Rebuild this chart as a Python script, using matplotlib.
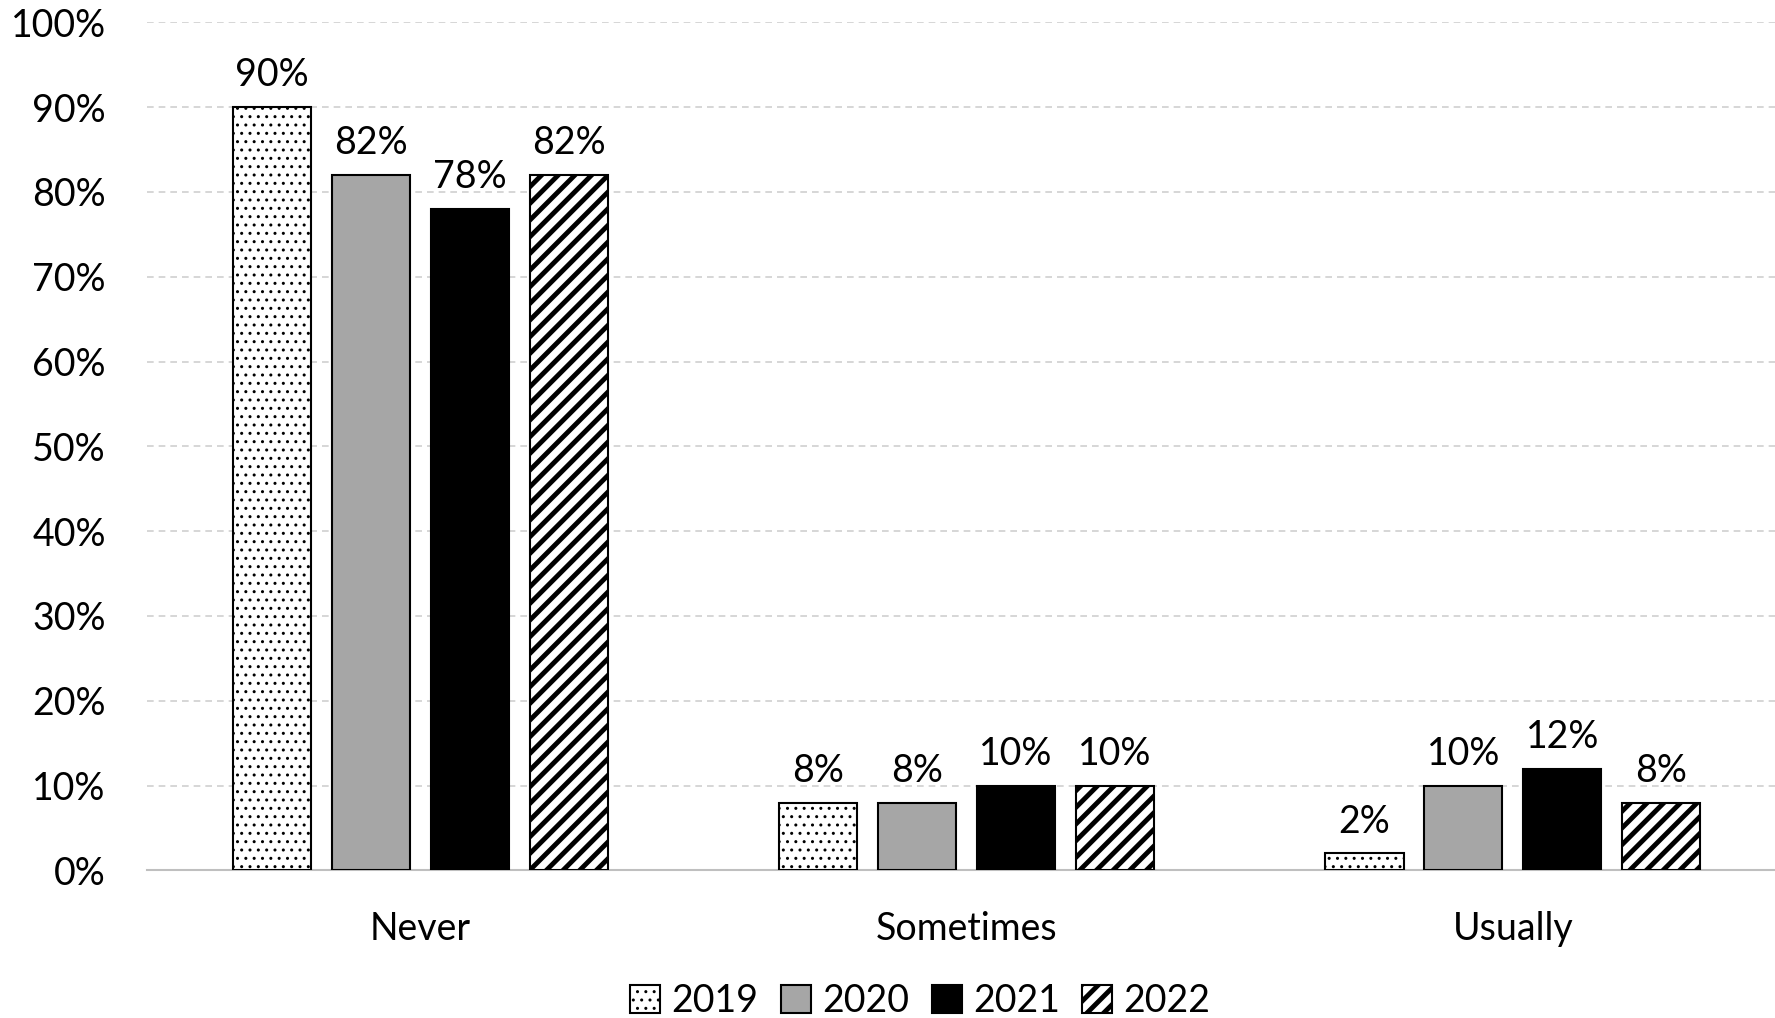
import numpy as np
import matplotlib.pyplot as plt

plt.rcParams['font.family'] = ['Lato', 'DejaVu Sans']

categories = ['Never', 'Sometimes', 'Usually']
years = ['2019', '2020', '2021', '2022']
values = {
    '2019': [90, 8, 2],
    '2020': [82, 8, 10],
    '2021': [78, 10, 12],
    '2022': [82, 10, 8],
}
colors = {'2019': 'white', '2020': '#a6a6a6', '2021': 'black', '2022': 'white'}
hatches = {'2019': '..', '2020': None, '2021': None, '2022': '//'}
hatch_lw = {'2019': 1.0, '2020': 1.0, '2021': 1.0, '2022': 3.5}

fig = plt.figure(figsize=(17.75, 10.18), dpi=100)
ax = fig.add_axes([0.083, 0.145, 0.917, 0.833])

x = np.arange(len(categories))
width = 0.143
pitch = 0.181

for i, yr in enumerate(years):
    pos = x + (i - 1.5) * pitch
    with plt.rc_context({'hatch.linewidth': hatch_lw[yr]}):
        bars = ax.bar(pos, values[yr], width, color=colors[yr], edgecolor='black',
                      linewidth=1.5, hatch=hatches[yr], label=yr, zorder=3)
    for b, v in zip(bars, values[yr]):
        ax.annotate(f'{v}%', (b.get_x() + b.get_width() / 2, v),
                    xytext=(0, 10), textcoords='offset points',
                    ha='center', va='bottom', fontsize=27)

ax.set_xlim(-0.5, 2.48)
ax.set_ylim(0, 100)
ax.set_yticks(range(0, 101, 10))
ax.set_yticklabels([f'{t}%' for t in range(0, 101, 10)])
ax.set_xticks(x)
ax.set_xticklabels(categories)
ax.tick_params(axis='both', length=0, labelsize=27)
ax.tick_params(axis='y', pad=30)
ax.tick_params(axis='x', pad=29)
ax.grid(axis='y', color='#d0d0d0', linestyle=(0, (4, 3)), linewidth=1.2, zorder=0)
for s in ['top', 'right', 'left']:
    ax.spines[s].set_visible(False)
ax.spines['bottom'].set_color('#bfbfbf')
ax.spines['bottom'].set_linewidth(1.5)

leg = ax.legend(loc='lower center', bbox_to_anchor=(0.475, -0.215), ncol=4, frameon=False,
                fontsize=27, handlelength=0.8, handleheight=0.8, handletextpad=0.3,
                columnspacing=0.6)
for h, yr in zip(leg.legend_handles, years):
    if hasattr(h, 'set_hatch_linewidth'):
        h.set_hatch_linewidth(hatch_lw[yr])
    else:
        h._hatch_linewidth = hatch_lw[yr]

fig.savefig('out.png', dpi=100)
